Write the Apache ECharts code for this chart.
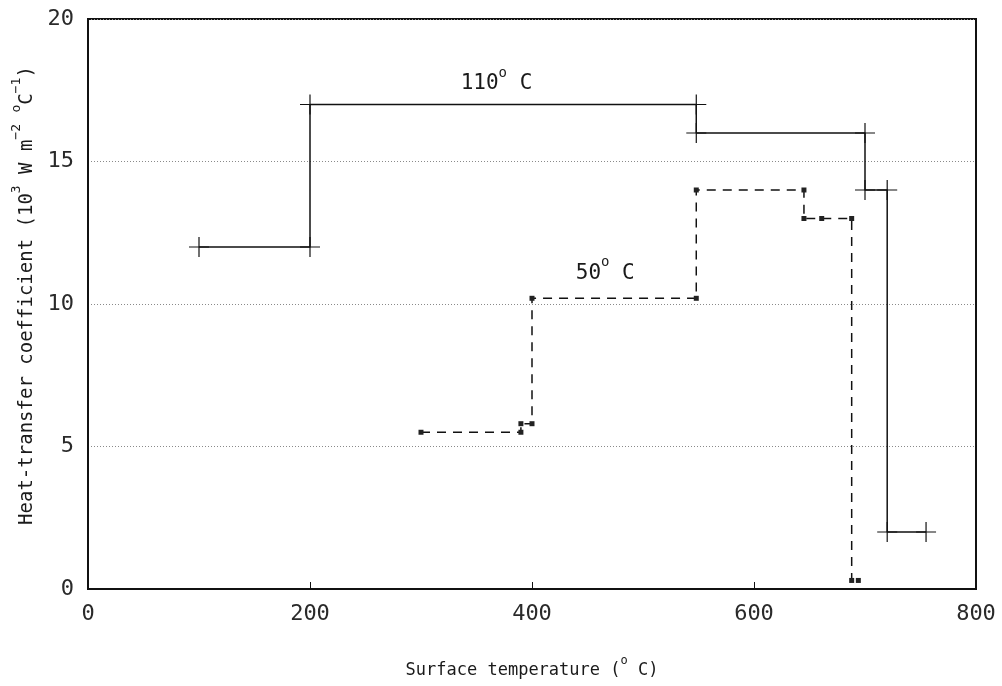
<!DOCTYPE html>
<html>
<head>
<meta charset="utf-8">
<script src="https://cdn.jsdelivr.net/npm/echarts@6/dist/echarts.min.js"></script>
<style>
  html, body { margin: 0; padding: 0; background: #fff; }
  #chart { width: 1002px; height: 686px; }
</style>
</head>
<body>
<div id="chart"></div>
<script>
// Step curves of heat-transfer coefficient vs. surface temperature
// 110 °C water: vertices of the solid step line
const temp110 = [100, 200, 200, 548, 548, 700, 700, 720, 720, 755];
const coef110 = [12, 12, 17, 17, 16, 16, 14, 14, 2, 2];
// 50 °C water: vertices of the dashed step line
const temp50 = [300, 390, 390, 400, 400, 548, 548, 645, 645, 661, 688, 688, 694];
const coef50 = [5.5, 5.5, 5.8, 5.8, 10.2, 10.2, 14, 14, 13, 13, 13, 0.3, 0.3];
// Axis ranges and tick spacing
const xRange = [0, 800];
const xStep = 200;
const yRange = [0, 20];
const yStep = 5;
// Curve labels and where they sit (data coordinates)
const curveNames = ['110', '50'];
const curveLabelTemp = [368, 466];
const curveLabelCoef = [17.85, 11.2];

const FONT = 'DejaVu Sans Mono';
const INK = '#111';
// thin "+" marker drawn at every vertex of the solid curve
const plusSymbol = 'path://M9.4,0H10.6V9.4H20V10.6H10.6V20H9.4V10.6H0V9.4H9.4Z';

const chart = echarts.init(document.getElementById('chart'), null, { renderer: 'canvas' });

const supRich = (size, lh, supSize) => ({
  a: { fontFamily: FONT, fontSize: size, lineHeight: lh, verticalAlign: 'bottom', color: '#1a1a1a' },
  s: { fontFamily: FONT, fontSize: supSize, lineHeight: supSize, verticalAlign: 'top', color: '#1a1a1a' }
});

chart.setOption({
  animation: false,
  backgroundColor: '#fff',
  grid: {
    left: 88, right: 26, top: 19, bottom: 97,
    show: true, borderColor: INK, borderWidth: 2, backgroundColor: 'transparent'
  },
  xAxis: {
    type: 'value',
    min: xRange[0], max: xRange[1], interval: xStep,
    name: '{a|Surface temperature (}{s|o}{a| C)}',
    nameLocation: 'middle',
    nameGap: 66,
    nameTextStyle: { rich: supRich(17, 24, 12) },
    axisLine: { show: true, onZero: false, lineStyle: { color: INK, width: 2 } },
    axisTick: { show: true, inside: true, length: 7, lineStyle: { color: INK, width: 1 } },
    axisLabel: { fontFamily: FONT, fontSize: 22, color: '#2a2a2a', margin: 14 },
    splitLine: { show: false }
  },
  yAxis: {
    type: 'value',
    min: yRange[0], max: yRange[1], interval: yStep,
    name: '{a|Heat-transfer coefficient (10}{s|3}{a| W m}{s|\u22122}{a| }{s|o}{a|C}{s|\u22121}{a|)}',
    nameLocation: 'middle',
    nameRotate: 90,
    nameGap: 46,
    nameTextStyle: { rich: supRich(19, 26, 13), padding: [0, 0, 0, 17] },
    axisLine: { show: true, onZero: false, lineStyle: { color: INK, width: 2 } },
    axisTick: { show: false },
    axisLabel: { fontFamily: FONT, fontSize: 22, color: '#2a2a2a', margin: 14 },
    splitLine: { show: true, lineStyle: { type: [1, 2], color: '#8a8a8a', width: 1 } }
  },
  series: [
    {
      name: '110',
      type: 'line',
      data: temp110.map((t, i) => [t, coef110[i]]),
      symbol: plusSymbol,
      symbolSize: 20,
      lineStyle: { color: INK, width: 1.5 },
      itemStyle: { color: INK },
      z: 3
    },
    {
      name: '50',
      type: 'line',
      data: temp50.map((t, i) => [t, coef50[i]]),
      symbol: 'rect',
      symbolSize: 5,
      lineStyle: { color: INK, width: 1.5, type: [9, 7] },
      itemStyle: { color: '#222' },
      z: 3
    },
    {
      name: 'curve labels',
      type: 'scatter',
      silent: true,
      data: curveNames.map((n, i) => [curveLabelTemp[i], curveLabelCoef[i], n]),
      symbol: 'circle',
      symbolSize: 1,
      itemStyle: { color: '#fff', opacity: 0 },
      label: {
        show: true,
        position: 'inside',
        color: '#111',
        opacity: 1,
        formatter: p => '{a|' + p.data[2] + '}{s|o}{a| C}',
        rich: supRich(21, 28, 14)
      },
      emphasis: { disabled: true },
      z: 4
    }
  ]
});
</script>
</body>
</html>
